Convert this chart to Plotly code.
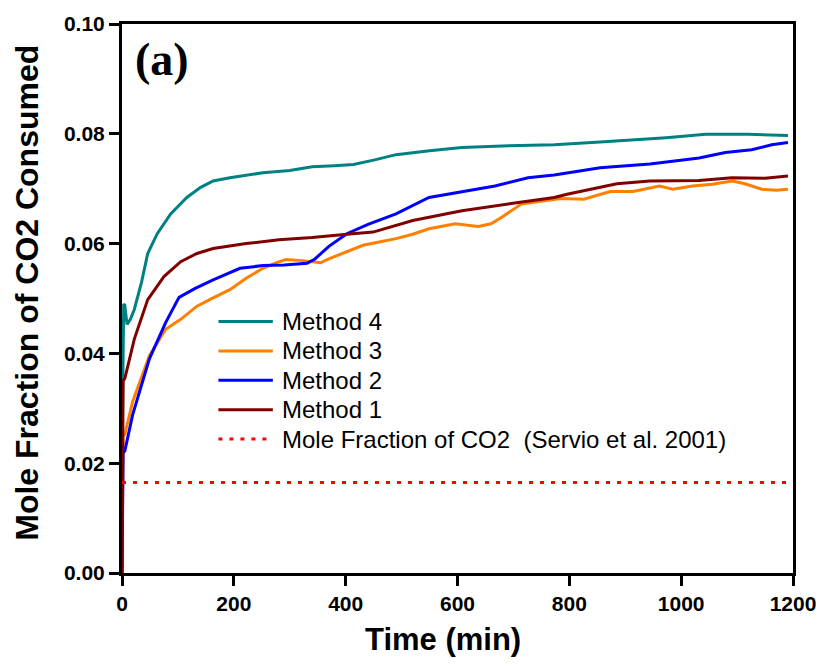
import plotly.graph_objects as go

# Method 4 (teal)
t_m4 = [0, 1, 3, 5, 9, 15, 22, 35, 46, 63, 87, 116, 140, 163, 193, 220, 252, 300,
        340, 380, 414, 450, 490, 550, 608, 680, 738, 773, 855, 920, 973, 1044, 1120, 1191]
y_m4 = [0, 0.030, 0.049, 0.0488, 0.0453, 0.0462, 0.048, 0.053, 0.0582, 0.0618, 0.0654,
        0.0684, 0.0702, 0.0714, 0.0720, 0.0724, 0.0729, 0.0733, 0.0740, 0.0742, 0.0744,
        0.0752, 0.0762, 0.0769, 0.0775, 0.0778, 0.0779, 0.0780, 0.0785, 0.0789, 0.0793,
        0.0799, 0.0799, 0.0797]

# Method 3 (orange)
t_m3 = [0, 2, 5, 19, 49, 78, 105, 134, 163, 193, 222, 252, 275, 293, 322, 340, 355, 372,
        400, 431, 460, 490, 520, 549, 596, 637, 660, 679, 714, 738, 785, 826, 873, 914,
        961, 985, 1020, 1056, 1091, 1114, 1144, 1170, 1191]
y_m3 = [0, 0.025, 0.0252, 0.0312, 0.0396, 0.0444, 0.0462, 0.0486, 0.0501, 0.0516, 0.0537,
        0.0555, 0.0565, 0.0571, 0.0569, 0.0567, 0.0565, 0.0573, 0.0584, 0.0597, 0.0603,
        0.0609, 0.0617, 0.0627, 0.0636, 0.0631, 0.0636, 0.0648, 0.0672, 0.0675, 0.0682,
        0.0681, 0.0695, 0.0695, 0.0705, 0.0699, 0.0705, 0.0708, 0.0714, 0.0709, 0.0699,
        0.0697, 0.0699]

# Method 2 (blue)
t_m2 = [0, 2, 5, 19, 49, 78, 102, 130, 163, 211, 252, 290, 331, 345, 370, 402, 440, 490,
        549, 608, 667, 726, 773, 855, 944, 1032, 1079, 1126, 1162, 1191]
y_m2 = [0, 0.022, 0.0222, 0.0288, 0.039, 0.0456, 0.0502, 0.0518, 0.0534, 0.0555, 0.0560,
        0.0561, 0.0564, 0.0572, 0.0595, 0.0618, 0.0635, 0.0654, 0.0684, 0.0695, 0.0705,
        0.0720, 0.0725, 0.0738, 0.0745, 0.0756, 0.0766, 0.0771, 0.0780, 0.0784]

# Method 1 (dark red)
t_m1 = [0, 2, 5, 22, 46, 75, 105, 134, 163, 222, 281, 340, 402, 449, 520, 608, 696, 773,
        796, 885, 944, 1032, 1091, 1150, 1191]
y_m1 = [0, 0.035, 0.0354, 0.0426, 0.0498, 0.054, 0.0567, 0.0582, 0.0591, 0.0600, 0.0607,
        0.0611, 0.0617, 0.0621, 0.0642, 0.0660, 0.0673, 0.0684, 0.0690, 0.0709, 0.0714,
        0.0715, 0.0720, 0.0719, 0.0723]

# Reference mole fraction (Servio et al. 2001)
t_ref = [0, 1190]
y_ref = [0.0165, 0.0165]

x_ticks = [0, 200, 400, 600, 800, 1000, 1200]
y_ticks = [0.00, 0.02, 0.04, 0.06, 0.08, 0.10]

SANS = "Liberation Sans, Arial, sans-serif"
SERIF = "Liberation Serif, Times New Roman, serif"

series = [
    ("Method 4", t_m4, y_m4, "#008080", None),
    ("Method 3", t_m3, y_m3, "#FF8000", None),
    ("Method 2", t_m2, y_m2, "#0000FF", None),
    ("Method 1", t_m1, y_m1, "#800000", None),
    ("Mole Fraction of CO2  (Servio et al. 2001)", t_ref, y_ref, "#FF0000", "4px,7px"),
]

fig = go.Figure()
for name, t, y, color, dash in series:
    fig.add_trace(go.Scatter(
        x=t, y=y, mode="lines", name=name, showlegend=False,
        line=dict(color=color, width=3, dash=dash),
    ))

# Key block: a short line sample and a label per series, stacked in rows
key_x0, key_x1, key_text_x = 0.1437, 0.2248, 0.236
key_top, key_step = 0.458, 0.0535
for row, (name, _, _, color, dash) in enumerate(series):
    ky = key_top - row * key_step
    fig.add_shape(type="line", xref="paper", yref="paper",
                  x0=key_x0, x1=key_x1, y0=ky, y1=ky,
                  line=dict(color=color, width=3, dash=dash))
    fig.add_annotation(text=name, xref="paper", yref="paper", x=key_text_x, y=ky,
                       xanchor="left", yanchor="middle", showarrow=False,
                       font=dict(family=SANS, size=24, color="black"))

# Panel label
fig.add_annotation(
    text="<b>(a)</b>", xref="paper", yref="paper", x=0.016, y=0.935,
    xanchor="left", yanchor="middle", showarrow=False,
    font=dict(family=SERIF, size=46, color="black"),
)

# Axis titles
fig.add_annotation(
    text="<b>Time (min)</b>", xref="paper", yref="paper", x=0.478, y=-0.122,
    xanchor="center", yanchor="middle", showarrow=False,
    font=dict(family=SANS, size=31, color="black"),
)
fig.add_annotation(
    text="<b>Mole Fraction of CO2 Consumed</b>", xref="paper", yref="paper",
    x=-0.142, y=0.51, xanchor="center", yanchor="middle", textangle=-90,
    showarrow=False, font=dict(family=SANS, size=32, color="black"),
)

axis_common = dict(
    showline=True, linecolor="black", linewidth=3, mirror=True,
    ticks="outside", ticklen=10, tickwidth=2.5, tickcolor="black",
    showgrid=False, zeroline=False,
    tickfont=dict(family=SANS, size=21, color="black"),
)

fig.update_layout(
    width=828, height=668,
    margin=dict(l=122, r=26, t=18, b=95),
    paper_bgcolor="white", plot_bgcolor="white",
    showlegend=False,
    xaxis=dict(
        range=[0, 1200], tickvals=x_ticks,
        ticktext=[f"<b>{v}</b>" for v in x_ticks],
        **axis_common,
    ),
    yaxis=dict(
        range=[0, 0.10], tickvals=y_ticks,
        ticktext=[f"<b>{v:.2f}</b>" for v in y_ticks],
        **axis_common,
    ),
)

fig.write_html("out.html")
